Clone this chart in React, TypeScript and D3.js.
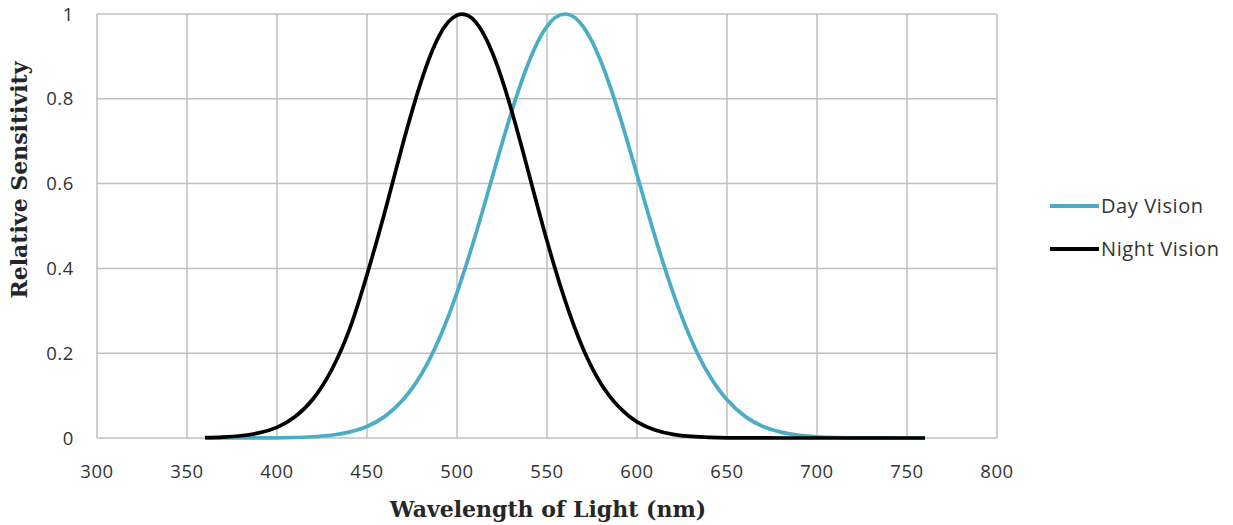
import React from "react";
import * as d3 from "d3";

const wavelengths = [360,370,380,390,400,410,420,430,440,450,460,470,480,490,500,510,520,530,540,550,560,570,580,590,600,610,620,630,640,650,660,670,680,690,700,710,720,730,740,750,760];
const dayVision = [0,0,0.0001,0.0002,0.0005,0.0012,0.0029,0.0065,0.0138,0.0273,0.051,0.09,0.149,0.233,0.343,0.475,0.621,0.765,0.888,0.971,1.0,0.971,0.888,0.765,0.621,0.475,0.343,0.233,0.149,0.09,0.051,0.0273,0.0138,0.0065,0.0029,0.0012,0.0005,0.0002,0.0001,0,0];
const nightVision = [0.0008,0.0022,0.0053,0.012,0.025,0.05,0.092,0.158,0.253,0.385,0.535,0.695,0.84,0.948,0.997,0.983,0.905,0.777,0.622,0.465,0.325,0.211,0.128,0.073,0.038,0.019,0.0087,0.0038,0.0015,0.0005,0.0002,0.0001,0,0,0,0,0,0,0,0,0];
const xTicks = [300,350,400,450,500,550,600,650,700,750,800];
const yTicks = [0,0.2,0.4,0.6,0.8,1];
const yTickLabels = ["0","0.2","0.4","0.6","0.8","1"];
const seriesNames = ["Day Vision","Night Vision"];
const seriesColors = ["#4BACC6","#000000"];

export default function App() {
  const W = 1233, H = 525;
  const x = d3.scaleLinear().domain([300, 800]).range([97, 997]);
  const y = d3.scaleLinear().domain([0, 1]).range([438, 14]);
  const line = d3.line<number>()
    .x((_, i) => x(wavelengths[i]))
    .y((d) => y(d))
    .curve(d3.curveNatural);
  const series = [dayVision, nightVision];
  const grid = "#BFBFBF";
  const tickFont = "'Open Sans', 'Liberation Sans', sans-serif";
  const titleFont = "'DejaVu Serif', 'Liberation Serif', serif";
  const textColor = "#333333";
  return (
    <svg width={W} height={H} style={{ position: "absolute", left: 0, top: 0, background: "#fff" }}>
      <rect x={0} y={0} width={W} height={H} fill="#fff" />
      {xTicks.map((t) => (
        <line key={"gx" + t} x1={x(t)} x2={x(t)} y1={y(0)} y2={y(1)} stroke={grid} strokeWidth={1.5} />
      ))}
      {yTicks.map((t) => (
        <line key={"gy" + t} x1={x(300)} x2={x(800)} y1={y(t)} y2={y(t)} stroke={grid} strokeWidth={1.5} />
      ))}
      {series.map((s, i) => (
        <path key={"s" + i} d={line(s) || ""} fill="none" stroke={seriesColors[i]} strokeWidth={3.7} strokeLinejoin="round" />
      ))}
      {yTicks.map((t, i) => (
        <text key={"ly" + t} x={74} y={y(t)} dy="0.36em" textAnchor="end" fontFamily={tickFont} fontSize={18.5} letterSpacing={0.6} fill={textColor}>
          {yTickLabels[i]}
        </text>
      ))}
      {xTicks.map((t) => (
        <text key={"lx" + t} x={x(t)} y={478} textAnchor="middle" fontFamily={tickFont} fontSize={18.5} letterSpacing={0.6} fill={textColor}>
          {t}
        </text>
      ))}
      <text x={548} y={517} textAnchor="middle" fontFamily={titleFont} fontWeight="bold" fontSize={22} fill="#262626">
        Wavelength of Light (nm)
      </text>
      <text transform="translate(27,180) rotate(-90)" textAnchor="middle" fontFamily={titleFont} fontWeight="bold" fontSize={22} fill="#262626">
        Relative Sensitivity
      </text>
      {seriesNames.map((n, i) => (
        <g key={"lg" + i} transform={`translate(1050,${206 + i * 43})`}>
          <line x1={0} x2={49} y1={0} y2={0} stroke={seriesColors[i]} strokeWidth={4} />
          <text x={51} y={0} dy="0.36em" fontFamily={tickFont} fontSize={20} letterSpacing={0.6} fill={textColor}>{n}</text>
        </g>
      ))}
    </svg>
  );
}
